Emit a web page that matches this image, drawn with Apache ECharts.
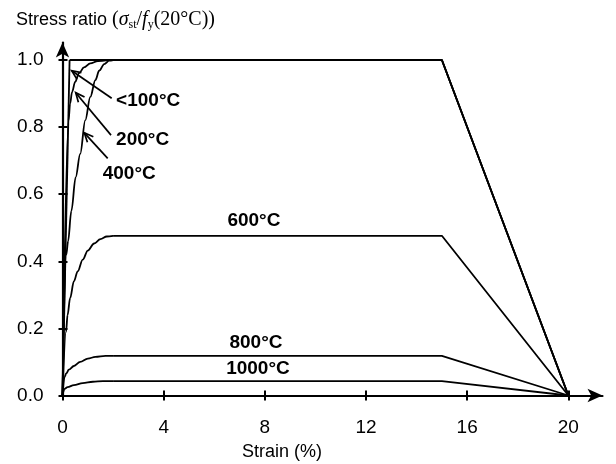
<!DOCTYPE html>
<html><head><meta charset="utf-8">
<script src="https://cdn.jsdelivr.net/npm/echarts@6/dist/echarts.min.js"></script>
<style>html,body{margin:0;padding:0;background:#fff}#c{width:616px;height:464px}</style>
</head><body><div id="c"></div>
<script>
// ---- data ----
const xTicks = [0, 4, 8, 12, 16, 20];
const yTicks = [0, 0.2, 0.4, 0.6, 0.8, 1.0];
const temps = ['<100°C', '200°C', '400°C', '600°C', '800°C', '1000°C'];
// rising branch of each curve (strain %, stress ratio)
const strain100 = [0, 0.28];
const stress100 = [0, 1.0];
const strain200 = [0, 0.24, 0.3, 0.38, 0.5, 0.65, 0.85, 1.1, 1.4, 1.8];
const stress200 = [0, 0.82, 0.87, 0.905, 0.935, 0.96, 0.978, 0.99, 0.997, 1.0];
const strain400 = [0, 0.15, 0.22, 0.35, 0.52, 0.7, 0.9, 1.1, 1.3, 1.45, 1.65, 1.85, 2.0];
const stress400 = [0, 0.42, 0.46, 0.55, 0.65, 0.72, 0.82, 0.89, 0.94, 0.968, 0.988, 0.998, 1.0];
const strain600 = [0, 0.14, 0.2, 0.3, 0.45, 0.6, 0.8, 1.0, 1.25, 1.5, 1.75, 2.0];
const stress600 = [0, 0.19, 0.24, 0.29, 0.34, 0.37, 0.405, 0.432, 0.453, 0.466, 0.474, 0.476];
const strain800 = [0, 0.08, 0.15, 0.25, 0.45, 0.7, 1.0, 1.3, 1.7, 2.0];
const stress800 = [0, 0.055, 0.066, 0.077, 0.088, 0.1, 0.11, 0.115, 0.118, 0.118];
const strain1000 = [0, 0.08, 0.2, 0.45, 0.8, 1.2, 1.6, 2.0];
const stress1000 = [0, 0.02, 0.025, 0.031, 0.037, 0.041, 0.043, 0.043];
// end of plateau and ultimate strain (%)
const limitStrain = [15, 20];
const risingStrain = [strain100, strain200, strain400, strain600, strain800, strain1000];
const risingStress = [stress100, stress200, stress400, stress600, stress800, stress1000];
// label anchors (data coordinates, left-middle of the text)
const labelStrain = [2.12, 2.12, 1.59, 6.52, 6.6, 6.47];
const labelStress = [0.879, 0.762, 0.662, 0.52, 0.156, 0.081];
// annotation arrows: start (near label) and tip (at curve), data coordinates
const arrowFrom = [[1.945, 0.886], [1.918, 0.776], [1.787, 0.707]];
const arrowTo = [[0.364, 0.968], [0.522, 0.9025], [0.862, 0.783]];

// ---- chart ----
const chart = echarts.init(document.getElementById('c'), null, {renderer: 'canvas'});
const SANS = 'Liberation Sans, Arial, Helvetica, sans-serif';
const SERIF = 'Liberation Serif, Times New Roman, serif';
const X_MAX = 21.35, Y_MAX = 1.0522;

const series = [];
temps.forEach((t, k) => {
  const xs = risingStrain[k], ys = risingStress[k];
  series.push({
    type: 'line', name: t + ' rise', xAxisIndex: 0, yAxisIndex: 0,
    data: xs.map((x, i) => [x, ys[i]]),
    symbol: 'none', smooth: 0.35, smoothMonotone: 'x',
    lineStyle: {color: '#000', width: 1.8}, silent: true, z: 3
  });
  const last = ys[ys.length - 1];
  series.push({
    type: 'line', name: t + ' plateau', xAxisIndex: 0, yAxisIndex: 0,
    data: [[xs[xs.length - 1], last], [limitStrain[0], last], [limitStrain[1], 0]],
    symbol: 'none', smooth: false,
    lineStyle: {color: '#000', width: 1.8}, silent: true, z: 3
  });
});

const axisCommon = {
  type: 'value', min: 0,
  splitLine: {show: false}
};
chart.setOption({
  animation: false,
  backgroundColor: '#fff',
  grid: {left: 62.5, right: 13.5, top: 42.5, bottom: 68.5, containLabel: false},
  xAxis: [
    Object.assign({}, axisCommon, {
      max: X_MAX, position: 'bottom',
      axisLine: {show: true, symbol: ['none', 'arrow'], symbolSize: [10, 15], lineStyle: {color: '#000', width: 2.2}},
      axisTick: {show: true, inside: false, length: 5, customValues: xTicks, lineStyle: {color: '#000', width: 2}},
      axisLabel: {show: true, customValues: xTicks, margin: 23, fontSize: 19, color: '#000', fontFamily: SANS}
    }),
    Object.assign({}, axisCommon, {
      max: X_MAX, position: 'bottom',
      axisLine: {show: false},
      axisTick: {show: true, inside: true, length: 5, customValues: xTicks, lineStyle: {color: '#000', width: 2}},
      axisLabel: {show: false}
    })
  ],
  yAxis: [
    Object.assign({}, axisCommon, {
      max: Y_MAX, position: 'left',
      axisLine: {show: true, symbol: ['none', 'arrow'], symbolSize: [10, 15], lineStyle: {color: '#000', width: 2.2}},
      axisTick: {show: true, inside: false, length: 4, customValues: yTicks, lineStyle: {color: '#000', width: 2}},
      axisLabel: {show: true, customValues: yTicks, margin: 19, fontSize: 19, color: '#000', fontFamily: SANS,
        formatter: v => v.toFixed(1)}
    }),
    Object.assign({}, axisCommon, {
      max: Y_MAX, position: 'left',
      axisLine: {show: false},
      axisTick: {show: true, inside: true, length: 5, customValues: yTicks, lineStyle: {color: '#000', width: 2}},
      axisLabel: {show: false}
    })
  ],
  series: series
});

// annotations
const g = [];
g.push({
  type: 'text', x: 16, y: 20, silent: true,
  style: {
    text: '{a|Stress ratio }{p|(}{i|σ}{s|st}{p|/}{i|f}{s|y}{p|(20°C))}',
    verticalAlign: 'middle', align: 'left',
    rich: {
      a: {fontFamily: SANS, fontSize: 18, lineHeight: 21, fill: '#000'},
      p: {fontFamily: SERIF, fontSize: 20, lineHeight: 21, fill: '#000'},
      i: {fontFamily: SERIF, fontSize: 20, fontStyle: 'italic', lineHeight: 21, fill: '#000'},
      s: {fontFamily: SERIF, fontSize: 12, lineHeight: 12, verticalAlign: 'bottom', fill: '#000'}
    }
  }
});
g.push({
  type: 'text', x: 282, y: 452, silent: true,
  style: {text: 'Strain (%)', font: '18px ' + SANS, fill: '#000', align: 'center', verticalAlign: 'middle'}
});
temps.forEach((t, k) => {
  const p = chart.convertToPixel({gridIndex: 0}, [labelStrain[k], labelStress[k]]);
  g.push({type: 'text', x: p[0], y: p[1], silent: true,
    style: {text: t, font: 'bold 19px ' + SANS, fill: '#000', align: 'left', verticalAlign: 'middle'}});
});
arrowFrom.forEach((f, k) => {
  const a = chart.convertToPixel({gridIndex: 0}, f);
  const b = chart.convertToPixel({gridIndex: 0}, arrowTo[k]);
  const dx = b[0] - a[0], dy = b[1] - a[1], L = Math.hypot(dx, dy);
  const ux = dx / L, uy = dy / L, nx = -uy, ny = ux;
  const hl = 9, hw = 4;
  g.push({type: 'polyline', silent: true, shape: {points: [a, b]}, style: {stroke: '#000', lineWidth: 1.7, fill: null}});
  g.push({type: 'polyline', silent: true,
    shape: {points: [[b[0] - ux * hl + nx * hw, b[1] - uy * hl + ny * hw], b, [b[0] - ux * hl - nx * hw, b[1] - uy * hl - ny * hw]]},
    style: {stroke: '#000', lineWidth: 1.7, fill: null, lineJoin: 'miter'}});
});
chart.setOption({graphic: g});
</script>
</body></html>
